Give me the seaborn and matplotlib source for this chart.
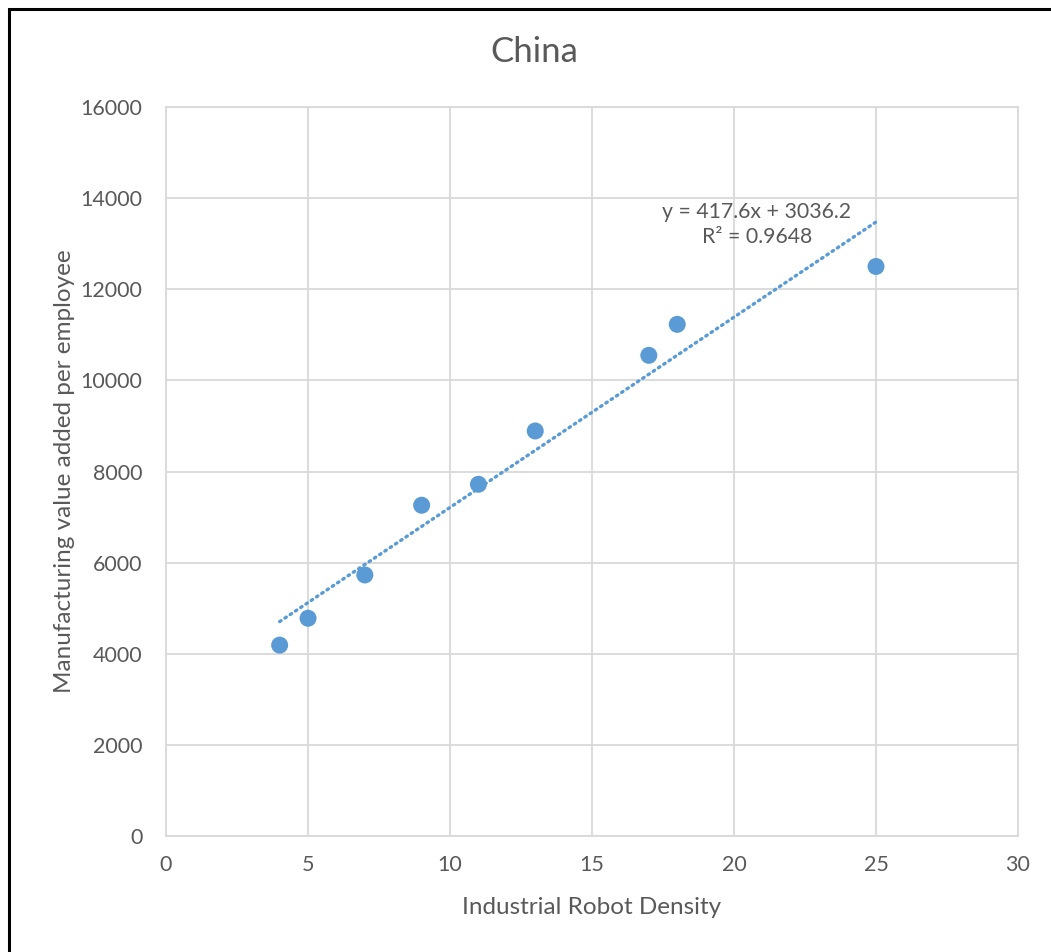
import numpy as np
import pandas as pd
import matplotlib
matplotlib.use("Agg")
import matplotlib.pyplot as plt
import seaborn as sns

# values
robot_density = [4, 5, 7, 9, 11, 13, 17, 18, 25]
value_added = [4190, 4780, 5730, 7260, 7720, 8890, 10550, 11230, 12500]

# linear trendline as printed on the chart
trend_slope = 417.6
trend_intercept = 3036.2
trend_r2 = 0.9648

x_ticks = [0, 5, 10, 15, 20, 25, 30]
y_ticks = [0, 2000, 4000, 6000, 8000, 10000, 12000, 14000, 16000]

BLUE = "#5b9bd5"
TEXT = "#595959"
GRID = "#d9d9d9"

sns.set_style("white")
plt.rcParams["font.family"] = ["Lato", "DejaVu Sans"]

df = pd.DataFrame({"density": robot_density, "value": value_added})

fig = plt.figure(figsize=(10.51, 9.52), dpi=100)
ax = fig.add_axes([0.158, 0.1218, 0.8106, 0.7658])

# trendline first so the points sit on top
xs = np.array([min(robot_density), max(robot_density)])
ax.plot(xs, trend_slope * xs + trend_intercept, color=BLUE, lw=2.4,
        linestyle=(0, (0.5, 1.4)), dash_capstyle="round", zorder=2)

sns.scatterplot(data=df, x="density", y="value", ax=ax, color=BLUE,
                s=150, edgecolor="none", zorder=3, legend=False)

ax.set_xlim(0, 30)
ax.set_ylim(0, 16000)
ax.set_xticks(x_ticks)
ax.set_yticks(y_ticks)
ax.grid(True, color=GRID, lw=1.3)
ax.set_axisbelow(True)
for s in ax.spines.values():
    s.set_color(GRID)
    s.set_linewidth(1.3)
ax.tick_params(colors=TEXT, labelsize=15.5, length=0)
ax.tick_params(axis="x", pad=14)
ax.tick_params(axis="y", pad=17)

ax.set_xlabel("Industrial Robot Density", color=TEXT, fontsize=17.5, labelpad=15.5)
ax.set_ylabel("Manufacturing value added per employee", color=TEXT,
              fontsize=17.5, labelpad=4)
fig.text(534 / 1051, 1 - 52 / 952, "China", color=TEXT, fontsize=25,
         ha="center", va="center")

ax.text(20.8, 13430, f"y = {trend_slope}x + {trend_intercept}\nR² = {trend_r2}",
        ha="center", va="center", color=TEXT, fontsize=15.3, linespacing=1.3)

# outer chart frame (only left and top edges visible in the crop)
fig.add_artist(plt.Rectangle((8.5 / 1051, -0.05), 1.2, 1.05 - 8.5 / 952,
                             transform=fig.transFigure, fill=False,
                             edgecolor="black", lw=2.2))

fig.savefig("out.png", dpi=100)
